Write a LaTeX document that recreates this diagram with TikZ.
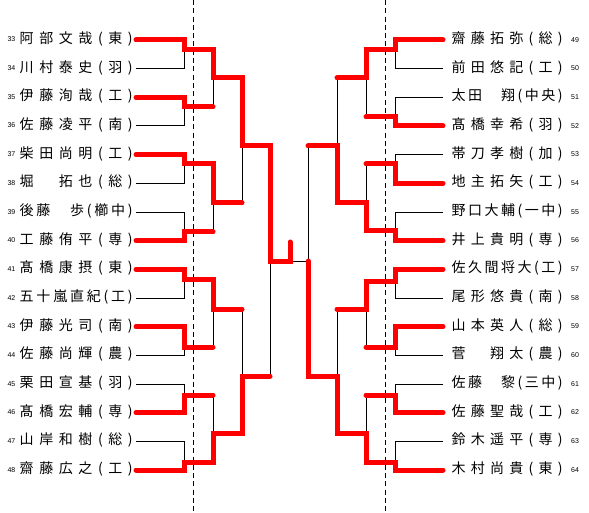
\documentclass[tikz,border=0pt]{standalone}
\usepackage{fontspec}
\newfontfamily\jp{Noto Sans CJK JP}
\newfontfamily\numf{Liberation Sans}
\def\distfirst#1{#1\distrest}
\def\distrest#1{\ifx#1\relax\else\hfill#1\expandafter\distrest\fi}
\newcommand\dist[2]{\makebox[#1][s]{\expandafter\distfirst#2\relax}}
\tikzset{
  win/.style={draw=red, line width=5pt, line cap=round, line join=miter},
  thinln/.style={draw=black, line width=1pt},
  guide/.style={draw=black, line width=1pt, dash pattern=on 5pt off 3.3pt},
  namebox/.style={inner sep=0pt, font=\jp\fontsize{14}{16}\selectfont},
  numbox/.style={inner sep=0pt, font=\numf\fontsize{7}{8}\selectfont}
}
\begin{document}
\begin{tikzpicture}[x=1pt,y=-1pt]
\useasboundingbox (0,0) rectangle (589,513);
\fill[white] (0,0) rectangle (589,513);
% guides
\draw[guide] (193.3,0) -- (193.3,513);
\draw[guide] (385.7,0) -- (385.7,513);
% left names
\foreach \n/\t [count=\i from 0] in {33/阿部文哉(東),34/川村泰史(羽),35/伊藤洵哉(工),36/佐藤凌平(南),37/柴田尚明(工),38/堀　拓也(総),39/後藤　歩(櫛中),40/工藤侑平(専),41/髙橋康摂(東),42/五十嵐直紀(工),43/伊藤光司(南),44/佐藤尚輝(農),45/栗田宣基(羽),46/髙橋宏輔(専),47/山岸和樹(総),48/齋藤広之(工)}{
  \node[namebox, anchor=base west] (L\n) at (19.5,{40+28.667*\i+3.6}) {\dist{113pt}{\t}};
  \node[numbox, anchor=base east] (LN\n) at (15.5,{40+28.667*\i+2}) {\n};
}
% right names
\foreach \n/\t [count=\i from 0] in {49/齋藤拓弥(総),50/前田悠記(工),51/太田　翔(中央),52/髙橋幸希(羽),53/帯刀孝樹(加),54/地主拓矢(工),55/野口大輔(一中),56/井上貴明(専),57/佐久間将大(工),58/尾形悠貴(南),59/山本英人(総),60/菅　翔太(農),61/佐藤　黎(三中),62/佐藤聖哉(工),63/鈴木遥平(専),64/木村尚貴(東)}{
  \node[namebox, anchor=base west] (R\n) at (451.5,{40+28.667*\i+3.6}) {\dist{111pt}{\t}};
  \node[numbox, anchor=base west] (RN\n) at (571,{40+28.667*\i+2.3}) {\n};
}
% black bracket, round 1
\foreach \i in {0,2,...,14}{
  \draw[thinln] (136,{40+28.667*\i}) -- (184,{40+28.667*\i}) -- (184,{40+28.667*(\i+1)}) -- (136,{40+28.667*(\i+1)});
  \draw[thinln] (443,{40+28.667*\i}) -- (395,{40+28.667*\i}) -- (395,{40+28.667*(\i+1)}) -- (443,{40+28.667*(\i+1)});
}
% black verticals, later rounds
\draw[thinln] (213,50) -- (213,107) (213,164) -- (213,232) (213,279) -- (213,347) (213,395) -- (213,462);
\draw[thinln] (242,78) -- (242,203) (242,309) -- (242,433);
\draw[thinln] (270,146) -- (270,376);
\draw[thinln] (366,50) -- (366,117) (366,164) -- (366,231) (366,281) -- (366,347) (366,395) -- (366,462);
\draw[thinln] (337,78) -- (337,203) (337,309) -- (337,433);
\draw[thinln] (308,146) -- (308,376);
\draw[thinln] (270,261) -- (308,261);
% winning paths, left
\draw[win] (136,40) -| (184,50) -| (213,78) -| (242,146) -| (270,261) -| (290,242);
\draw[win] (136,97.33) -| (184,107) -- (213,107);
\draw[win] (136,154.67) -| (184,164) -| (213,203) -- (242,203);
\draw[win] (136,240.67) -| (184,232) -- (213,232);
\draw[win] (136,269.33) -| (184,279) -| (213,309) -- (242,309);
\draw[win] (136,326.67) -| (184,347) -- (213,347);
\draw[win] (136,412.67) -| (184,395) -- (213,395);
\draw[win] (136,470) -| (184,462) -| (213,433) -| (242,376) -- (270,376);
% winning paths, right
\draw[win] (443,40) -| (395,50) -| (366,78) -- (337,78);
\draw[win] (443,126) -| (395,117) -- (366,117);
\draw[win] (443,183.33) -| (395,164) -- (366,164);
\draw[win] (443,240.67) -| (395,231) -| (366,203) -| (337,146) -- (308,146);
\draw[win] (443,269.33) -| (395,281) -| (366,309) -- (337,309);
\draw[win] (443,326.67) -| (395,347) -- (366,347);
\draw[win] (443,412.67) -| (395,395) -- (366,395);
\draw[win] (443,470) -| (395,462) -| (366,433) -| (337,376) -| (308,261);
\end{tikzpicture}
\end{document}
